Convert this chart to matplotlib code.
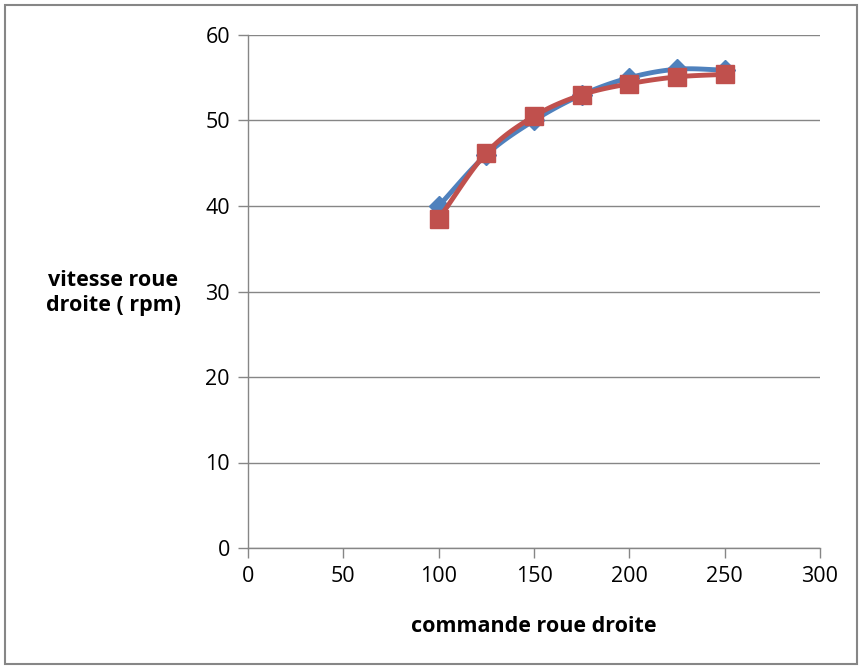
import numpy as np
import matplotlib
matplotlib.use("Agg")
import matplotlib.pyplot as plt
from matplotlib.patches import Rectangle

commande = [100, 125, 150, 175, 200, 225, 250]
vitesse_1 = [40.0, 46.0, 50.0, 53.0, 55.0, 56.0, 55.9]
vitesse_2 = [38.5, 46.2, 50.5, 53.0, 54.3, 55.1, 55.4]
x_ticks = [0, 50, 100, 150, 200, 250, 300]
y_ticks = [0, 10, 20, 30, 40, 50, 60]


def smooth(x, y, n=20):
    # Catmull-Rom style smoothing through the data points (display only)
    x = np.asarray(x, float); y = np.asarray(y, float)
    px = np.concatenate([[2*x[0]-x[1]], x, [2*x[-1]-x[-2]]])
    py = np.concatenate([[2*y[0]-y[1]], y, [2*y[-1]-y[-2]]])
    xs, ys = [], []
    t = np.linspace(0, 1, n)
    for i in range(1, len(px)-2):
        for P, out in ((px, xs), (py, ys)):
            p0, p1, p2, p3 = P[i-1], P[i], P[i+1], P[i+2]
            out.extend(0.5*((2*p1) + (-p0+p2)*t + (2*p0-5*p1+4*p2-p3)*t**2 + (-p0+3*p1-3*p2+p3)*t**3))
    return np.array(xs), np.array(ys)


plt.rcParams['font.family'] = ['Open Sans', 'DejaVu Sans']
fig = plt.figure(figsize=(8.61, 6.68), dpi=100)
fig.patches.append(Rectangle((5/861, 4/668), 852/861, 659/668, transform=fig.transFigure,
                             fill=False, edgecolor='#868686', linewidth=1.5))
ax = fig.add_axes([248/861, 1-548/668, 572/861, 513/668])

blue = '#4F81BD'
red = '#C0504D'
sx, sy = smooth(commande, vitesse_1)
ax.plot(sx, sy, color=blue, lw=3.5, zorder=3)
ax.plot(commande, vitesse_1, ls='none', marker='D', ms=10, color=blue, zorder=4)
sx, sy = smooth(commande, vitesse_2)
ax.plot(sx, sy, color=red, lw=3.5, zorder=5)
ax.plot(commande, vitesse_2, ls='none', marker='s', ms=13, color=red, zorder=6)

ax.set_xlim(0, 300)
ax.set_ylim(0, 60)
ax.set_xticks(x_ticks)
ax.set_yticks(y_ticks)
ax.grid(axis='y', color='#868686', lw=1)
ax.set_axisbelow(True)
for s in ['top', 'right']:
    ax.spines[s].set_visible(False)
for s in ['left', 'bottom']:
    ax.spines[s].set_color('#868686')
    ax.spines[s].set_linewidth(1)
ax.tick_params(axis='both', colors='#868686', labelcolor='black', length=7, width=1,
               labelsize=15.5, pad=6)

fig.text(113/861, 1-293/668, 'vitesse roue\ndroite ( rpm)', ha='center', va='center',
         fontsize=15.5, fontweight='bold', linespacing=1.25)
fig.text(534/861, 1-626/668, 'commande roue droite', ha='center', va='center',
         fontsize=15.5, fontweight='bold')

fig.savefig('out.png', dpi=100)
